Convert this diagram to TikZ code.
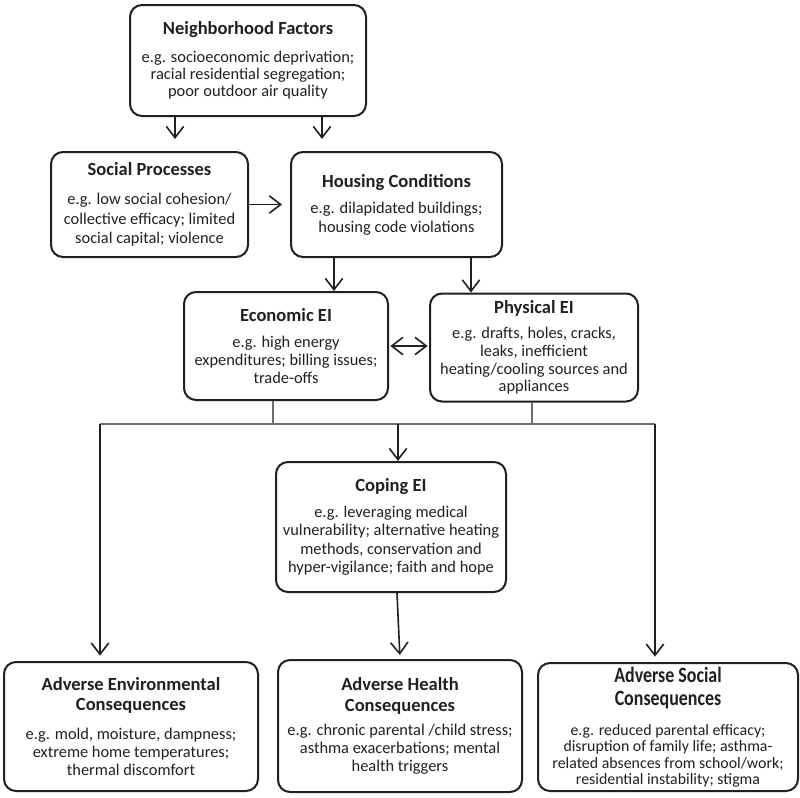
\documentclass[tikz,border=0pt]{standalone}
\usepackage{fontspec}
\usepackage{graphicx}
\setmainfont{Carlito}
\usetikzlibrary{arrows.meta}
\definecolor{ink}{RGB}{35,31,32}
\newcommand{\myBody}[1]{\fontsize{12.3}{#1}\selectfont\lineskiplimit=-50pt\lineskip=0pt}
\newcommand{\mySocBody}{\fontsize{11.9}{12.2}\selectfont\lineskiplimit=-50pt\lineskip=0pt}
\newcommand{\myTitle}[1]{{\fontsize{13.9}{13.9}\selectfont\bfseries #1}}
\newcommand{\myBigTitle}[1]{\scalebox{0.82}[1]{\fontsize{16.4}{16.4}\selectfont\bfseries #1}}
\begin{document}
\begin{tikzpicture}[x=0.75pt,y=-0.75pt,
  box/.style={draw=ink, line width=1.5pt, rounded corners=9pt, align=center,
    inner sep=0pt, text=ink, font=\myBody{13.4pt}},
  tip/.tip={Straight Barb[length=8.5pt,width=13pt,line width=1.2pt]},
  arr/.style={draw=ink, line width=1.2pt, -tip},
  thinline/.style={draw=ink!65, line width=0.8pt}]
\useasboundingbox (0,0) rectangle (800,797);

\node[box, font=\myBody{13.1pt}, minimum width=177pt, minimum height=83.25pt] (nf) at (248,60.5)
  {\myTitle{Neighborhood Factors}\\[7.6pt]
   e.g. socioeconomic deprivation;\\ racial residential segregation;\\ poor outdoor air quality};
\node[box, font=\myBody{14.5pt}, minimum width=147.75pt, minimum height=78.75pt] (sp) at (149.5,204.5)
  {\myTitle{Social Processes}\\[7.25pt]
   e.g. low social cohesion/\\ collective efficacy; limited\\ social capital; violence};
\node[box, font=\myBody{13.75pt}, minimum width=158.25pt, minimum height=78.75pt] (hc) at (396.5,204.5)
  {\myTitle{Housing Conditions}\\[6.25pt]
   e.g. dilapidated buildings;\\ housing code violations};
\node[box, font=\myBody{13.4pt}, minimum width=153pt, minimum height=81pt] (econ) at (286,346)
  {\myTitle{Economic EI}\\[6.3pt]
   e.g. high energy\\ expenditures; billing issues;\\ trade-offs};
\node[box, font=\myBody{13.3pt}, minimum width=156pt, minimum height=81pt] (phys) at (534,347.5)
  {\myTitle{Physical EI}\\[5.5pt]
   e.g. drafts, holes, cracks,\\ leaks, inefficient\\ heating/cooling sources and\\ appliances};
\node[box, font=\myBody{13.7pt}, minimum width=172.5pt, minimum height=97.5pt] (coping) at (391,527)
  {\myTitle{Coping EI}\\[5.5pt]
   e.g. leveraging medical\\ vulnerability; alternative heating\\ methods, conservation and\\ hyper-vigilance; faith and hope};
\node[box, minimum width=190.5pt, minimum height=96.75pt] (env) at (131,726.5)
  {\myTitle{Adverse Environmental}\\[2pt] \myTitle{Consequences}\\[8.25pt]
   e.g. mold, moisture, dampness;\\ extreme home temperatures;\\ thermal discomfort};
\node[box, minimum width=183pt, minimum height=99pt] (health) at (400,726)
  {\myTitle{Adverse Health}\\[2.25pt] \myTitle{Consequences}\\[5pt]
   e.g. chronic parental /child stress;\\ asthma exacerbations; mental\\ health triggers};
\node[box, font=\mySocBody, minimum width=195pt, minimum height=96pt] (social) at (668,727)
  {\myBigTitle{Adverse Social}\\[5.6pt] \myBigTitle{Consequences}\\[10pt]
   e.g. reduced parental efficacy;\\ disruption of family life; asthma-\\
   related absences from school/work;\\ residential instability; stigma};

\coordinate (c1) at (175,0);
\coordinate (c2) at (322,0);
\coordinate (c3) at (334,0);
\coordinate (c4) at (471,0);
\coordinate (c5) at (273,0);
\coordinate (c6) at (532,0);
\coordinate (c7) at (397,0);
\coordinate (L) at (100,424);
\coordinate (M) at (398,424);
\coordinate (R) at (655,424);

\draw[arr, shorten >=9pt] (nf.south -| c1) -- (sp.north -| c1);
\draw[arr, shorten >=9pt] (nf.south -| c2) -- (hc.north -| c2);
\draw[arr, shorten >=6pt] (sp.east) -- (hc.west);
\draw[arr] (hc.south -| c3) -- (econ.north -| c3);
\draw[arr] (hc.south -| c4) -- (phys.north -| c4);
\draw[draw=ink, line width=1.2pt, tip-tip, shorten <=1pt, shorten >=1pt] (econ.east) -- (econ.east -| phys.west);
\draw[thinline] (econ.south -| c5) -- (c5 |- L);
\draw[thinline] (phys.south -| c6) -- (c6 |- L);
\draw[thinline] (L) -- (R);
\draw[arr] (M) -- (coping.north -| M);
\draw[arr, shorten >=4pt] (L) -- (env.north -| L);
\draw[arr, shorten >=4pt] (R) -- (social.north -| R);
\draw[arr, shorten >=3pt] (coping.south -| c7) -- (health.north);
\end{tikzpicture}
\end{document}
